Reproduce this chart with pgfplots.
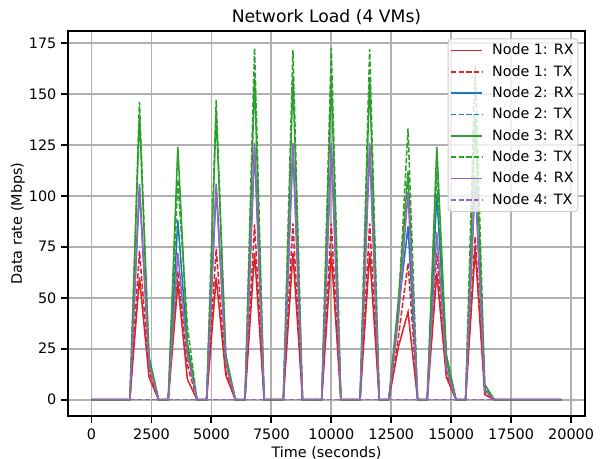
\documentclass[border=0pt]{standalone}
\usepackage{fontspec}
\setmainfont{DejaVu Sans}
\usepackage{pgfplots}
\pgfplotsset{compat=1.18}
\usepackage{pgfplotstable}
\definecolor{cred}{HTML}{D62728}
\definecolor{cblue}{HTML}{1F77B4}
\definecolor{cgreen}{HTML}{2CA02C}
\definecolor{cpurple}{HTML}{9467BD}
\definecolor{gridgray}{HTML}{B0B0B0}
\definecolor{legendgray}{HTML}{CCCCCC}

\pgfplotstableread{
t     n1rx n1tx n2rx n2tx n3rx n3tx  n4rx n4tx
0     0    0    0    0    0    0     0    0
400   0    0    0    0    0    0     0    0
800   0    0    0    0    0    0     0    0
1200  0    0    0    0    0    0     0    0
1600  0    0    0    0    0    0     0    0
2000  60   73   104  0    140  146   106  0
2400  11   14   18   0    21   20    17   0
2800  0    0    0    0    0    0     0    0
3200  0    0    0    0    0    0     0    0
3600  57   63   88   0    124  108   72   0
4000  10   17   25   0    28   36    22   0
4400  0    0    0    0    0    0     0    0
4800  0    0    0    0    0    0     0    0
5200  60   74   104  0    141  147   106  0
5600  12   14   19   0    22   21    18   0
6000  0    0    0    0    0    0     0    0
6400  0    0    0    0    0    0     0    0
6800  72   86   124  0    158  172.5 126  0
7200  0    0    0    0    0    0     0    0
7600  0    0    0    0    0    0     0    0
8000  0    0    0    0    0    0     0    0
8400  72   86.5 124  0    158  171.5 126  0
8800  0    0    0    0    0    0     0    0
9200  0    0    0    0    0    0     0    0
9600  0    0    0    0    0    0     0    0
10000 72   86.5 124  0    159  172.5 126  0
10400 0    0    0    0    0    0     0    0
10800 0    0    0    0    0    0     0    0
11200 0    0    0    0    0    0     0    0
11600 72   86.5 124  0    158  172   126  0
12000 0    0    0    0    0    0     0    0
12400 0    0    0    0    0    0     0    0
12800 26   31   44   0    49   45    40   0
13200 43   67   85   0    112  133   102  0
13600 0    0    0    0    0    0     0    0
14000 0    0    0    0    0    0     0    0
14400 62   72   101  0    124  112   82   0
14800 11   13   19   0    22   20    15   0
15200 0    0    0    0    0    0     0    0
15600 0    0    0    0    0    0     0    0
16000 74   80   108  0    138  164   110  0
16400 2.5  3.5  5    0    7.5  6     4.5  0
16800 0    0    0    0    0    0     0    0
17200 0    0    0    0    0    0     0    0
17600 0    0    0    0    0    0     0    0
18000 0    0    0    0    0    0     0    0
18400 0    0    0    0    0    0     0    0
18800 0    0    0    0    0    0     0    0
19200 0    0    0    0    0    0     0    0
19600 0    0    0    0    0    0     0    0
}\data

\begin{document}
\begin{tikzpicture}
\begin{axis}[name=ax,
  scale only axis, width=387.75pt, height=288.5pt,
  xmin=-980, xmax=20580, ymin=-8.0, ymax=180.7,
  xtick={0,2500,...,20000}, ytick={0,25,...,175},
  scaled x ticks=false,
  grid=major, grid style={color=gridgray, line width=1.3pt},
  axis line style={line width=1.7pt},
  tick align=outside, major tick length=5.2pt,
  tick style={black, line width=1.4pt},
  xtick pos=left, ytick pos=left,
  ticklabel style={font=\fontsize{10.8}{12}\selectfont, inner sep=0.5pt},
  /pgf/number format/assume math mode=true,
  xticklabel style={/pgf/number format/fixed, /pgf/number format/1000 sep={}, yshift=-3.65pt},
  yticklabel style={xshift=-2.8pt},
  every axis title shift=0pt,
  title={Network Load (4 VMs)},
  title style={font=\fontsize{12.9}{15}\selectfont, inner sep=0pt, at={(axis description cs:0.5,1.0364)}, anchor=center},
  xlabel={Time (seconds)},
  xlabel style={font=\fontsize{10.8}{12}\selectfont, inner sep=0pt, at={(axis description cs:0.5,-0.0949)}, anchor=center},
  ylabel={Data rate (Mbps)},
  ylabel style={font=\fontsize{10.8}{12}\selectfont, inner sep=0pt, at={(axis description cs:-0.0967,0.5)}, anchor=center},
  no markers,
  every axis plot/.append style={line width=1.15pt},
  legend cell align=left,
  legend image code/.code={\draw[#1] (0pt,0pt) -- (23pt,0pt);},
  legend style={at={(1,1)}, anchor=north east, xshift=-5pt, yshift=-5.25pt,
    draw=legendgray, line width=0.8pt, fill=white, fill opacity=0.8, text opacity=1,
    rounded corners=2.5pt, font=\fontsize{10.7}{12}\selectfont,
    row sep=3.7pt, column sep=5.7pt, inner xsep=1.7pt, inner ysep=2.65pt,
    nodes={inner sep=1.5pt, text height=7.8pt, text depth=1.5pt}},
]
\addplot[cred] table[x=t,y=n1rx]{\data};
\addlegendentry{Node 1: RX}
\addplot[cred, dash pattern=on 4pt off 1.7pt] table[x=t,y=n1tx]{\data};
\addlegendentry{Node 1: TX}
\addplot[cblue] table[x=t,y=n2rx]{\data};
\addlegendentry{Node 2: RX}
\addplot[cblue, dash pattern=on 4pt off 1.7pt] table[x=t,y=n2tx]{\data};
\addlegendentry{Node 2: TX}
\addplot[cgreen] table[x=t,y=n3rx]{\data};
\addlegendentry{Node 3: RX}
\addplot[cgreen, dash pattern=on 4pt off 1.7pt] table[x=t,y=n3tx]{\data};
\addlegendentry{Node 3: TX}
\addplot[cpurple] table[x=t,y=n4rx]{\data};
\addlegendentry{Node 4: RX}
\addplot[cpurple, dash pattern=on 4pt off 1.7pt] table[x=t,y=n4tx]{\data};
\addlegendentry{Node 4: TX}
\end{axis}
\pgfresetboundingbox
\path ([shift={(-51pt,-32.25pt)}]ax.south west) rectangle ([shift={(12.75pt,23.5pt)}]ax.north east);
\end{tikzpicture}
\end{document}
